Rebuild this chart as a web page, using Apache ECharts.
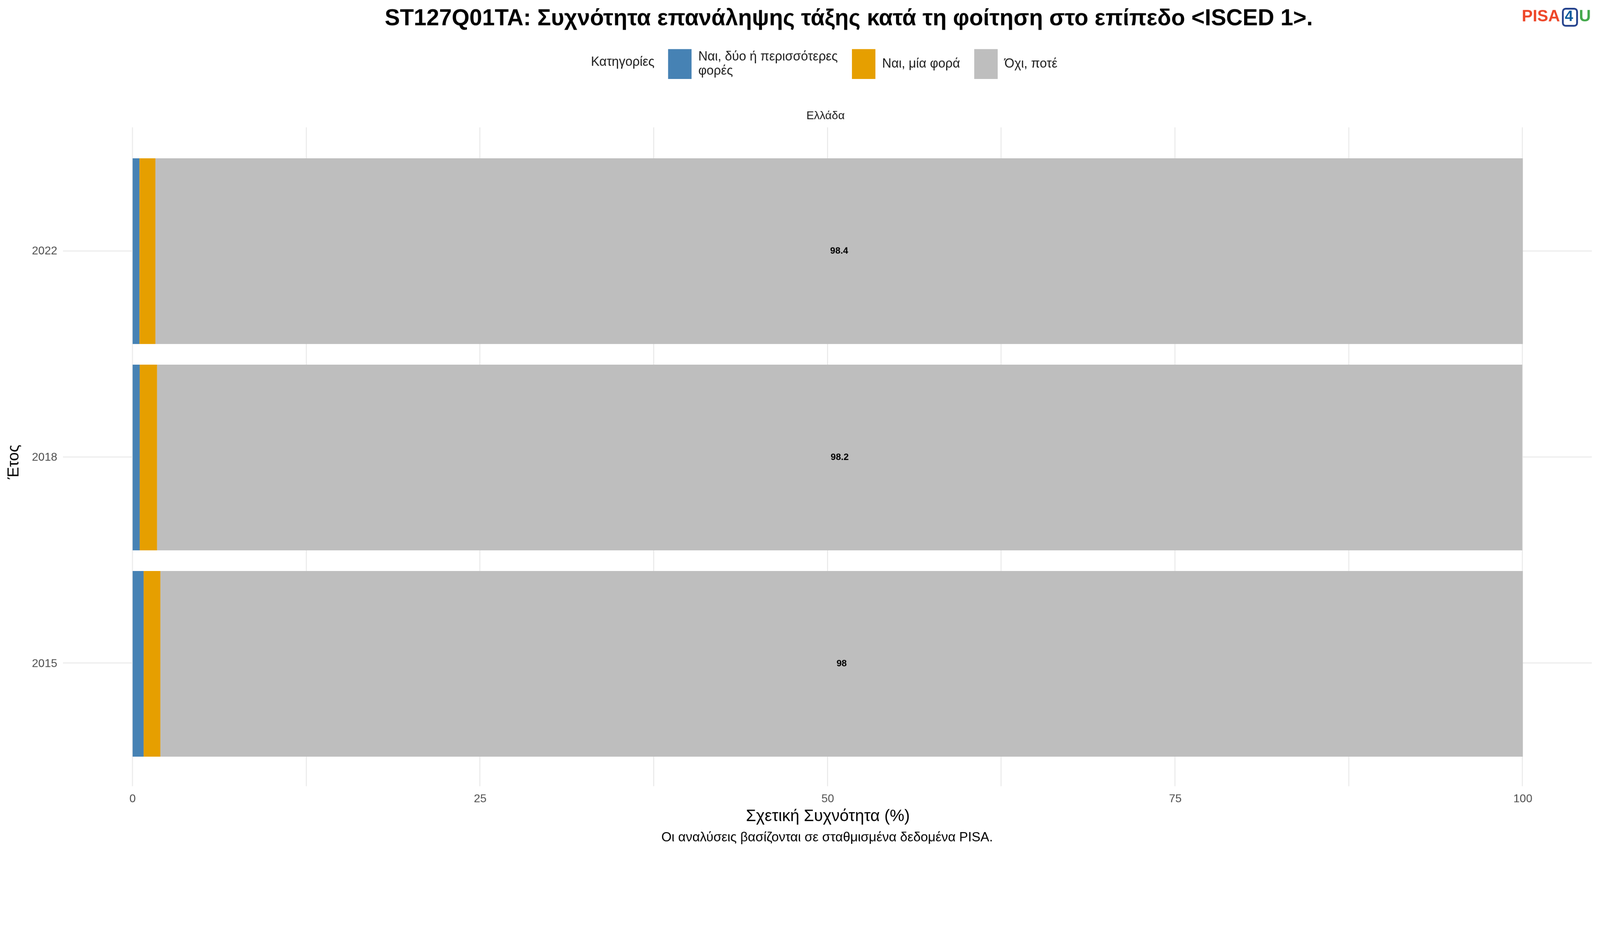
<!DOCTYPE html>
<html><head><meta charset="utf-8">
<script src="https://cdn.jsdelivr.net/npm/echarts@6/dist/echarts.min.js"></script>
<style>html,body{margin:0;padding:0;background:#fff;overflow:hidden}#pic{width:4500px;height:2400px;transform-origin:0 0}</style>
</head><body><div id="pic"></div>
<script>
var years = ['2015', '2018', '2022'];
var twoOrMore = [0.79, 0.51, 0.49];
var once = [1.21, 1.25, 1.15];
var never = [98.0, 98.2, 98.4];
var names = ['Ναι, δύο ή περισσότερες\nφορές', 'Ναι, μία φορά', 'Όχι, ποτέ'];
var colors = ['#4682B4', '#E69F00', '#BEBEBE'];
var xGrid = [0, 12.5, 25, 37.5, 50, 62.5, 75, 87.5, 100];
var yGrid = [6, 16, 26]; // category centres on the expanded panel (tenths)

var el = document.getElementById('pic');
var k = Math.min(window.innerWidth / 4500, window.innerHeight / 2400);
if (k > 0 && Math.abs(k - 1) > 0.001) el.style.transform = 'scale(' + k + ')';
var chart = echarts.init(el);
var font = 'Liberation Sans, Arial, sans-serif';
function bar(i, data, lab) {
  return {
    name: names[i], type: 'bar', stack: 'all', data: data, barWidth: '90%', z: 2,
    xAxisIndex: 1, yAxisIndex: 1,
    itemStyle: {color: colors[i]}, animation: false,
    label: {show: lab, position: 'inside', color: '#000', fontWeight: 'bold', fontSize: 26, fontFamily: font}
  };
}
// panel grid lines, drawn on the expanded outer panel behind the bars
var lines = {
  type: 'line', data: [], z: 0, silent: true, animation: false, xAxisIndex: 0, yAxisIndex: 0,
  markLine: {
    silent: true, symbol: 'none', label: {show: false}, animation: false, z: 0,
    lineStyle: {color: '#EBEBEB', width: 3, type: 'solid'},
    data: xGrid.map(function (v) { return {xAxis: v}; })
      .concat(yGrid.map(function (v) { return {yAxis: v}; }))
  }
};
var hidden = {show: false};
var option = {
  backgroundColor: '#fff',
  textStyle: {fontFamily: font},
  title: {
    text: 'ST127Q01TA: Συχνότητα επανάληψης τάξης κατά τη φοίτηση στο επίπεδο <ISCED 1>.',
    left: 1077, top: 16,
    textStyle: {fontSize: 64, fontWeight: 'bold', color: '#000', fontFamily: font}
  },
  legend: {
    left: 1874, top: 133, itemWidth: 66, itemHeight: 84, itemGap: 40, icon: 'rect',
    data: names, selectedMode: false,
    textStyle: {fontSize: 36, color: '#1a1a1a', lineHeight: 40, fontFamily: font, padding: [0, 0, 0, 14]}
  },
  graphic: [
    {type: 'text', left: 1662, top: 157, style: {text: 'Κατηγορίες', fontSize: 36, fill: '#1a1a1a', fontFamily: font}},
    {type: 'text', left: 2268, top: 310, style: {text: 'Ελλάδα', fontSize: 32, fill: '#1a1a1a', fontFamily: font}},
    {type: 'text', left: 2098, top: 2272, style: {text: 'Σχετική Συχνότητα (%)', fontSize: 46, fill: '#000', fontFamily: font}},
    {type: 'text', left: 1860, top: 2336, style: {text: 'Οι αναλύσεις βασίζονται σε σταθμισμένα δεδομένα PISA.', fontSize: 37, fill: '#000', fontFamily: font}},
    {type: 'text', left: 18, top: 1250, rotation: Math.PI / 2, style: {text: 'Έτος', fontSize: 44, fill: '#000', fontFamily: font}},
    {type: 'text', left: 4280, top: 24, style: {text: 'PISA', fontSize: 46, fontWeight: 'bold', fill: '#EE4628', fontFamily: font}},
    {type: 'rect', left: 4393, top: 22, shape: {width: 40, height: 48, r: 8}, style: {fill: '#fff', stroke: '#23418C', lineWidth: 5}},
    {type: 'text', left: 4401, top: 26, style: {text: '4', fontSize: 42, fontWeight: 'bold', fill: '#0A5A9C', fontFamily: font}},
    {type: 'text', left: 4441, top: 24, style: {text: 'U', fontSize: 46, fontWeight: 'bold', fill: '#42A84A', fontFamily: font}}
  ],
  grid: [
    {left: 177, right: 23, top: 358, bottom: 190},
    {left: 373, right: 217, top: 416, bottom: 244}
  ],
  xAxis: [
    {type: 'value', gridIndex: 0, min: -5, max: 105, show: false, splitLine: hidden},
    {
      type: 'value', gridIndex: 1, min: 0, max: 100, interval: 25,
      axisLine: hidden, axisTick: hidden, splitLine: hidden,
      axisLabel: {fontSize: 32, color: '#4d4d4d', margin: 74}
    }
  ],
  yAxis: [
    {type: 'value', gridIndex: 0, min: 0, max: 32, inverse: true, show: false, splitLine: hidden},
    {
      type: 'category', gridIndex: 1, data: years,
      axisLine: hidden, axisTick: hidden,
      axisLabel: {fontSize: 32, color: '#4d4d4d', margin: 212}
    }
  ],
  series: [lines, bar(0, twoOrMore, false), bar(1, once, false), bar(2, never, true)]
};
chart.setOption(option);
</script></body></html>
